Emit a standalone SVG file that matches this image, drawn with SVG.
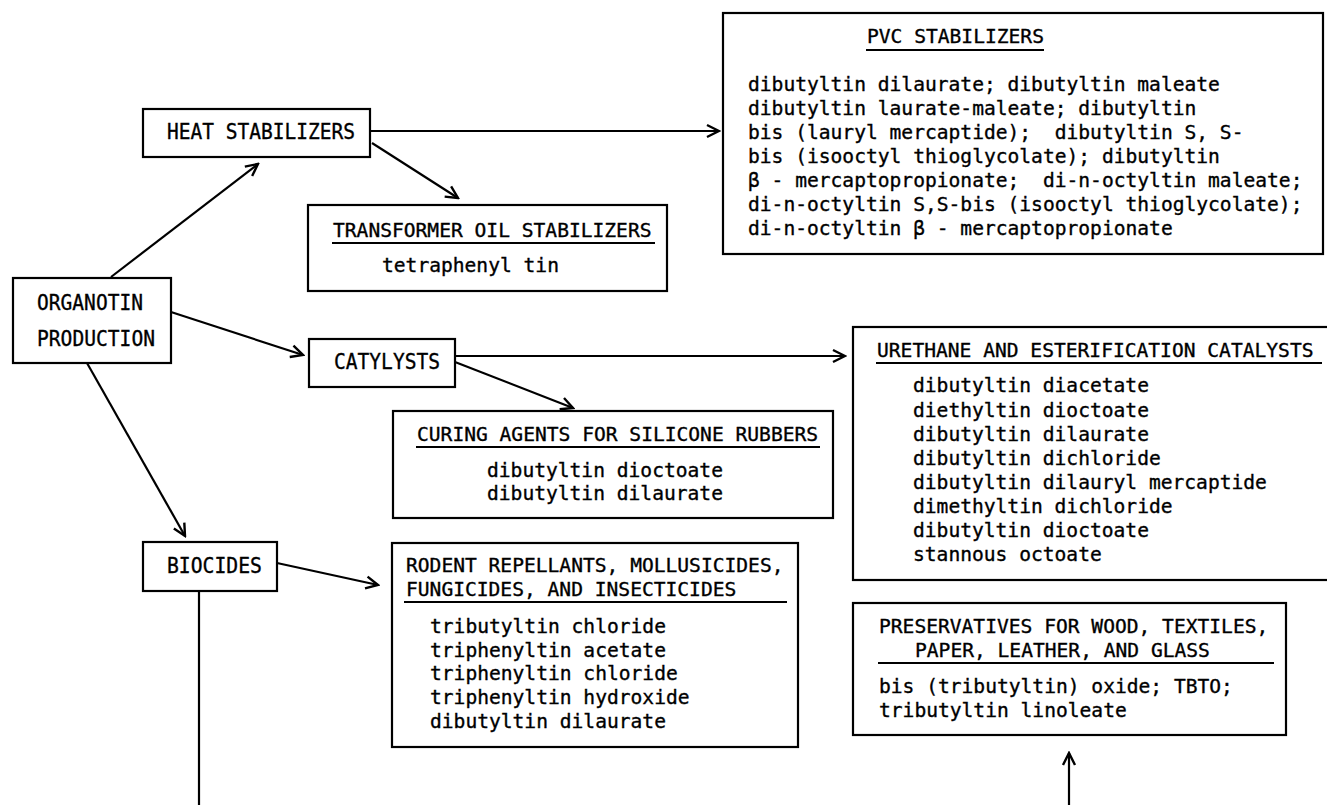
<svg xmlns="http://www.w3.org/2000/svg" width="1327" height="805" viewBox="0 0 1327 805">
  <style>
    .box { fill: #fff; stroke: #000; stroke-width: 2.2; }
    .t { font-family: "DejaVu Sans Mono", "Liberation Mono", monospace; font-size: 19.6px; fill: #000; stroke: #000; stroke-width: 0.35; }
    .lbl { font-family: "DejaVu Sans Mono", "Liberation Mono", monospace; font-size: 22px; fill: #000; stroke: #000; stroke-width: 0.35; }
    .ul { stroke: #000; stroke-width: 2; }
    .c { stroke: #000; stroke-width: 2.2; fill: none; }
  </style>
  <defs>
    <marker id="arr" markerUnits="userSpaceOnUse" viewBox="0 0 16 16" markerWidth="16" markerHeight="16" refX="14" refY="8" orient="auto">
      <path d="M2,2 L14,8 L2,14" fill="none" stroke="#000" stroke-width="2.4" stroke-linejoin="miter"/>
    </marker>
  </defs>
  <rect width="1327" height="805" fill="#fff"/>

  <!-- connectors -->
  <g id="connectors">
    <line class="c" x1="111" y1="277" x2="258" y2="164" marker-end="url(#arr)"/>
    <line class="c" x1="370" y1="131" x2="719" y2="131" marker-end="url(#arr)"/>
    <line class="c" x1="372" y1="143" x2="458" y2="198" marker-end="url(#arr)"/>
    <line class="c" x1="171" y1="312" x2="303" y2="355" marker-end="url(#arr)"/>
    <line class="c" x1="455" y1="356" x2="845" y2="356" marker-end="url(#arr)"/>
    <line class="c" x1="455" y1="362" x2="573" y2="408" marker-end="url(#arr)"/>
    <line class="c" x1="87" y1="363" x2="185" y2="536" marker-end="url(#arr)"/>
    <line class="c" x1="277" y1="563" x2="378" y2="585" marker-end="url(#arr)"/>
    <line class="c" x1="199" y1="591" x2="199" y2="806"/>
    <line class="c" x1="1069" y1="806" x2="1069" y2="753" marker-end="url(#arr)"/>
  </g>

  <!-- source node -->
  <g id="organotin">
    <rect class="box" x="13" y="278" width="158" height="85"/>
    <text class="lbl" x="37" y="310" textLength="106" lengthAdjust="spacingAndGlyphs">ORGANOTIN</text>
    <text class="lbl" x="37" y="346" textLength="118" lengthAdjust="spacingAndGlyphs">PRODUCTION</text>
  </g>

  <g id="heat-stabilizers">
    <rect class="box" x="143" y="109" width="227" height="48"/>
    <text class="lbl" x="167" y="139" textLength="188" lengthAdjust="spacingAndGlyphs">HEAT STABILIZERS</text>
  </g>

  <g id="catylysts">
    <rect class="box" x="309" y="339" width="146" height="48"/>
    <text class="lbl" x="334" y="369" textLength="106" lengthAdjust="spacingAndGlyphs">CATYLYSTS</text>
  </g>

  <g id="biocides">
    <rect class="box" x="143" y="542" width="134" height="49"/>
    <text class="lbl" x="167" y="573" textLength="95" lengthAdjust="spacingAndGlyphs">BIOCIDES</text>
  </g>

  <!-- product groups -->
  <g id="pvc-stabilizers">
    <rect class="box" x="723" y="13" width="600" height="241"/>
    <text class="t" x="867" y="43">PVC STABILIZERS</text>
    <line class="ul" x1="866" y1="50" x2="1044" y2="50"/>
    <text class="t" x="748" y="91">dibutyltin dilaurate; dibutyltin maleate</text>
    <text class="t" x="748" y="115">dibutyltin laurate-maleate; dibutyltin</text>
    <text class="t" x="748" y="139" xml:space="preserve">bis (lauryl mercaptide);  dibutyltin S, S-</text>
    <text class="t" x="748" y="163">bis (isooctyl thioglycolate); dibutyltin</text>
    <text class="t" x="748" y="187" xml:space="preserve">β - mercaptopropionate;  di-n-octyltin maleate;</text>
    <text class="t" x="748" y="211">di-n-octyltin S,S-bis (isooctyl thioglycolate);</text>
    <text class="t" x="748" y="235">di-n-octyltin β - mercaptopropionate</text>
  </g>

  <g id="transformer-oil">
    <rect class="box" x="308" y="205" width="359" height="86"/>
    <text class="t" x="333" y="237">TRANSFORMER OIL STABILIZERS</text>
    <line class="ul" x1="332" y1="243" x2="655" y2="243"/>
    <text class="t" x="382" y="272">tetraphenyl tin</text>
  </g>

  <g id="urethane-catalysts">
    <rect class="box" x="853" y="327" width="476" height="253"/>
    <text class="t" x="877" y="357">URETHANE AND ESTERIFICATION CATALYSTS</text>
    <line class="ul" x1="876" y1="363" x2="1322" y2="363"/>
    <text class="t" x="913" y="392">dibutyltin diacetate</text>
    <text class="t" x="913" y="417">diethyltin dioctoate</text>
    <text class="t" x="913" y="441">dibutyltin dilaurate</text>
    <text class="t" x="913" y="465">dibutyltin dichloride</text>
    <text class="t" x="913" y="489">dibutyltin dilauryl mercaptide</text>
    <text class="t" x="913" y="513">dimethyltin dichloride</text>
    <text class="t" x="913" y="537">dibutyltin dioctoate</text>
    <text class="t" x="913" y="561">stannous octoate</text>
  </g>

  <g id="curing-agents">
    <rect class="box" x="393" y="411" width="440" height="107"/>
    <text class="t" x="417" y="441">CURING AGENTS FOR SILICONE RUBBERS</text>
    <line class="ul" x1="416" y1="447" x2="820" y2="447"/>
    <text class="t" x="487" y="477">dibutyltin dioctoate</text>
    <text class="t" x="487" y="500">dibutyltin dilaurate</text>
  </g>

  <g id="rodent-repellants">
    <rect class="box" x="392" y="543" width="406" height="204"/>
    <text class="t" x="406" y="572">RODENT REPELLANTS, MOLLUSICIDES,</text>
    <text class="t" x="406" y="596">FUNGICIDES, AND INSECTICIDES</text>
    <line class="ul" x1="404" y1="602" x2="787" y2="602"/>
    <text class="t" x="430" y="633">tributyltin chloride</text>
    <text class="t" x="430" y="657">triphenyltin acetate</text>
    <text class="t" x="430" y="680">triphenyltin chloride</text>
    <text class="t" x="430" y="704">triphenyltin hydroxide</text>
    <text class="t" x="430" y="728">dibutyltin dilaurate</text>
  </g>

  <g id="preservatives">
    <rect class="box" x="853" y="603" width="433" height="132"/>
    <text class="t" x="879" y="633">PRESERVATIVES FOR WOOD, TEXTILES,</text>
    <text class="t" x="915" y="657">PAPER, LEATHER, AND GLASS</text>
    <line class="ul" x1="878" y1="663" x2="1274" y2="663"/>
    <text class="t" x="879" y="693">bis (tributyltin) oxide; TBTO;</text>
    <text class="t" x="879" y="717">tributyltin linoleate</text>
  </g>
</svg>
